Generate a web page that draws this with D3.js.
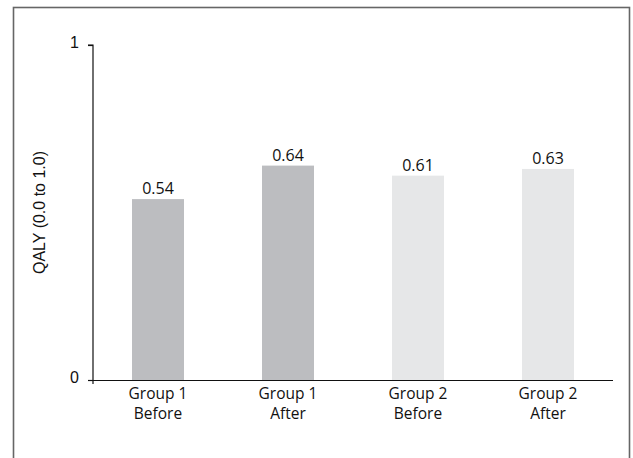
<!DOCTYPE html>
<html><head><meta charset="utf-8">
<script src="https://cdn.jsdelivr.net/npm/d3@7"></script>
<style>body{margin:0;background:#fff}svg{display:block}</style>
</head><body>
<svg id="c" width="633" height="458"></svg>
<script>
const categories = [["Group 1","Before"],["Group 1","After"],["Group 2","Before"],["Group 2","After"]];
const values = [0.54, 0.64, 0.61, 0.63];
const colors = ["#bcbdc0","#bcbdc0","#e6e7e8","#e6e7e8"];
const yTicks = [0, 1];
const yLabel = "QALY (0.0 to 1.0)";

const svg = d3.select("#c");
svg.append("rect").attr("x",13.5).attr("y",7.5).attr("width",616).attr("height",470)
  .attr("fill","none").attr("stroke","#666").attr("stroke-width",1.6);

const x0 = 93, x1 = 613, yTop = 45, yBot = 380;
const x = d3.scaleBand().domain(d3.range(categories.length)).range([x0,x1]).paddingInner(0.6).paddingOuter(0.3);
const y = d3.scaleLinear().domain([0,1]).range([yBot,yTop]);

svg.selectAll("rect.bar").data(values).join("rect").attr("class","bar")
  .attr("x",(d,i)=>x(i)).attr("width",x.bandwidth())
  .attr("y",d=>y(d)).attr("height",d=>y(0)-y(d))
  .attr("fill",(d,i)=>colors[i]);

svg.selectAll("text.val").data(values).join("text").attr("class","val")
  .attr("x",(d,i)=>x(i)+x.bandwidth()/2).attr("y",d=>y(d)-5)
  .attr("text-anchor","middle").attr("font-family","Open Sans, sans-serif").attr("font-size",16)
  .attr("fill","#111").text(d=>d.toFixed(2));

// y axis
const yAxis = d3.axisLeft(y).tickValues(yTicks).tickFormat(d3.format("d")).tickSize(5).tickPadding(9);
const ga = svg.append("g").attr("transform",`translate(${x0},0)`).call(yAxis);
ga.select(".domain").attr("d",`M-5,${yTop}H0V${yBot+4}`).attr("stroke","#111").attr("stroke-width",1.2);
ga.selectAll(".tick line").attr("stroke","#111").attr("stroke-width",1.2);
ga.selectAll(".tick text").style("font-family","Liberation Sans, Arial, sans-serif").style("font-size","16px").attr("fill","#111").attr("dy","0.15em");

// x axis
const xa = svg.append("g").attr("transform",`translate(0,${yBot})`).call(d3.axisBottom(x).tickSize(0).tickFormat(""));
xa.select(".domain").attr("d",`M${x0-5},0.5H${x1}`).attr("stroke","#111").attr("stroke-width",1.2);
categories.forEach((c,i)=>{
  const t = svg.append("text").attr("x",x(i)+x.bandwidth()/2).attr("y",yBot+19)
    .attr("text-anchor","middle").attr("font-family","Open Sans, sans-serif").attr("font-size",15.5).attr("fill","#111");
  c.forEach((line,j)=>t.append("tspan").attr("x",x(i)+x.bandwidth()/2).attr("dy",j?20:0).text(line));
});

svg.append("text").attr("transform",`translate(45,${(yTop+yBot)/2}) rotate(-90)`)
  .attr("text-anchor","middle").attr("font-family","Liberation Sans, Arial, sans-serif").attr("font-size",16).attr("fill","#111").text(yLabel);
</script>
</body></html>
